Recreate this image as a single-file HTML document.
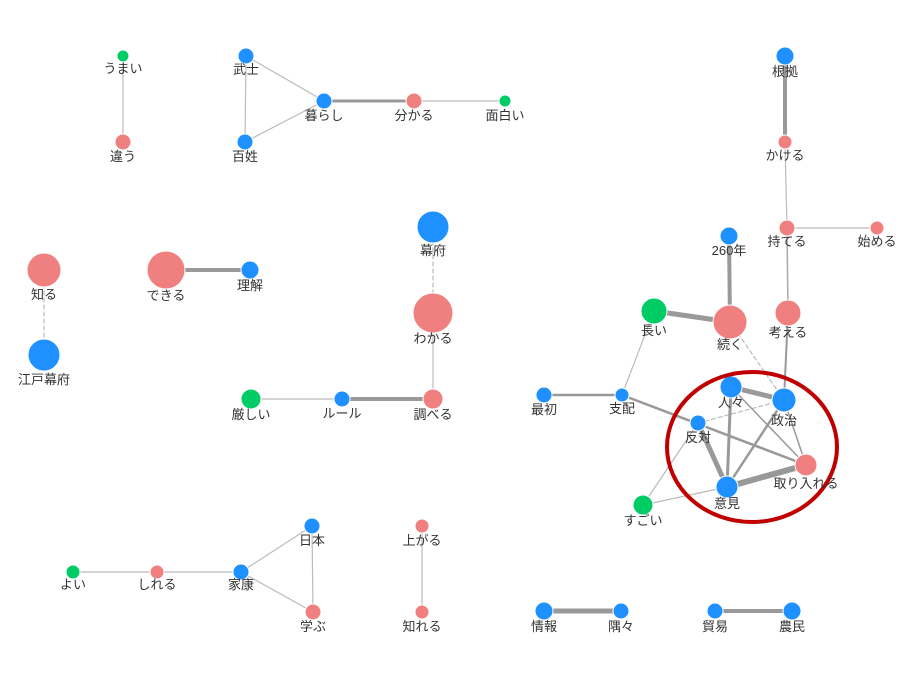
<!DOCTYPE html>
<html><head><meta charset="utf-8"><style>
html,body{margin:0;padding:0;background:#fff;width:920px;height:690px;overflow:hidden}
text{font-family:"Liberation Sans","Noto Sans CJK JP",sans-serif;font-size:13px;fill:#333;text-anchor:middle}
</style></head><body>
<svg width="920" height="690" xmlns="http://www.w3.org/2000/svg">
<g stroke="#999" fill="none" stroke-linecap="round">
<line x1="123" y1="56" x2="123" y2="142" stroke="#bbb" stroke-width="1.2"/>
<line x1="246" y1="56" x2="245" y2="142" stroke="#bbb" stroke-width="1.2"/>
<line x1="246" y1="56" x2="324" y2="101" stroke="#bbb" stroke-width="1.2"/>
<line x1="245" y1="142" x2="324" y2="101" stroke="#bbb" stroke-width="1.2"/>
<line x1="324" y1="101" x2="414" y2="101" stroke-width="3"/>
<line x1="414" y1="101" x2="505" y2="101" stroke="#bbb" stroke-width="1.2"/>
<line x1="785" y1="56" x2="785" y2="142" stroke-width="4"/>
<line x1="785" y1="142" x2="787" y2="228" stroke="#bbb" stroke-width="1.2"/>
<line x1="787" y1="228" x2="877" y2="228" stroke="#bbb" stroke-width="1.2"/>
<line x1="787" y1="228" x2="788" y2="313" stroke="#aaa" stroke-width="1.5"/>
<line x1="729" y1="236" x2="730" y2="322" stroke-width="4"/>
<line x1="44" y1="270" x2="44" y2="355" stroke="#bbb" stroke-width="1.2" stroke-dasharray="4,3"/>
<line x1="166" y1="270" x2="250" y2="270" stroke-width="4"/>
<line x1="433" y1="227" x2="433" y2="313" stroke="#bbb" stroke-width="1.2" stroke-dasharray="4,3"/>
<line x1="433" y1="313" x2="433" y2="399" stroke="#bbb" stroke-width="1.2"/>
<line x1="251" y1="399" x2="342" y2="399" stroke="#bbb" stroke-width="1.2"/>
<line x1="342" y1="399" x2="433" y2="399" stroke-width="4"/>
<line x1="654" y1="311" x2="730" y2="322" stroke-width="5"/>
<line x1="654" y1="311" x2="622" y2="395" stroke="#bbb" stroke-width="1.2"/>
<line x1="544" y1="395" x2="622" y2="395" stroke-width="2.5"/>
<line x1="622" y1="395" x2="806" y2="465" stroke-width="2.5"/>
<line x1="730" y1="322" x2="784" y2="400" stroke="#bbb" stroke-width="1.2" stroke-dasharray="4,3"/>
<line x1="788" y1="313" x2="784" y2="400" stroke-width="2"/>
<line x1="731" y1="387" x2="784" y2="400" stroke-width="5"/>
<line x1="698" y1="423" x2="784" y2="400" stroke="#bbb" stroke-width="1.2" stroke-dasharray="4,3"/>
<line x1="731" y1="387" x2="727" y2="487" stroke-width="3"/>
<line x1="731" y1="387" x2="806" y2="465" stroke-width="1.5"/>
<line x1="784" y1="400" x2="727" y2="487" stroke-width="2.5"/>
<line x1="784" y1="400" x2="806" y2="465" stroke-width="1.5"/>
<line x1="698" y1="423" x2="727" y2="487" stroke-width="5"/>
<line x1="727" y1="487" x2="806" y2="465" stroke-width="6"/>
<line x1="698" y1="423" x2="643" y2="505" stroke="#bbb" stroke-width="1.2"/>
<line x1="643" y1="505" x2="727" y2="487" stroke="#bbb" stroke-width="1.2"/>
<line x1="73" y1="572" x2="241" y2="572" stroke="#bbb" stroke-width="1.2"/>
<line x1="241" y1="572" x2="312" y2="526" stroke="#bbb" stroke-width="1.2"/>
<line x1="241" y1="572" x2="313" y2="612" stroke="#bbb" stroke-width="1.2"/>
<line x1="312" y1="526" x2="313" y2="612" stroke="#bbb" stroke-width="1.2"/>
<line x1="422" y1="526" x2="422" y2="612" stroke="#bbb" stroke-width="1.2"/>
<line x1="544" y1="611" x2="621" y2="611" stroke-width="5"/>
<line x1="715" y1="611" x2="792" y2="611" stroke-width="4"/>
</g>
<g stroke="#fff" stroke-width="1">
<circle cx="123" cy="56" r="6" fill="#00cc66"/>
<circle cx="123" cy="142" r="8" fill="#f08080"/>
<circle cx="246" cy="56" r="8" fill="#1e90ff"/>
<circle cx="245" cy="142" r="8" fill="#1e90ff"/>
<circle cx="324" cy="101" r="8" fill="#1e90ff"/>
<circle cx="414" cy="101" r="8" fill="#f08080"/>
<circle cx="505" cy="101" r="6" fill="#00cc66"/>
<circle cx="785" cy="56" r="9" fill="#1e90ff"/>
<circle cx="785" cy="142" r="7" fill="#f08080"/>
<circle cx="787" cy="228" r="8" fill="#f08080"/>
<circle cx="877" cy="228" r="7" fill="#f08080"/>
<circle cx="729" cy="236" r="9" fill="#1e90ff"/>
<circle cx="44" cy="270" r="17" fill="#f08080"/>
<circle cx="44" cy="355" r="16" fill="#1e90ff"/>
<circle cx="166" cy="270" r="19" fill="#f08080"/>
<circle cx="250" cy="270" r="9" fill="#1e90ff"/>
<circle cx="433" cy="227" r="16" fill="#1e90ff"/>
<circle cx="433" cy="313" r="20" fill="#f08080"/>
<circle cx="654" cy="311" r="13" fill="#00cc66"/>
<circle cx="730" cy="322" r="17" fill="#f08080"/>
<circle cx="788" cy="313" r="13" fill="#f08080"/>
<circle cx="251" cy="399" r="10" fill="#00cc66"/>
<circle cx="342" cy="399" r="8" fill="#1e90ff"/>
<circle cx="433" cy="399" r="10" fill="#f08080"/>
<circle cx="544" cy="395" r="8" fill="#1e90ff"/>
<circle cx="622" cy="395" r="7" fill="#1e90ff"/>
<circle cx="731" cy="387" r="11" fill="#1e90ff"/>
<circle cx="784" cy="400" r="12" fill="#1e90ff"/>
<circle cx="698" cy="423" r="8" fill="#1e90ff"/>
<circle cx="806" cy="465" r="11" fill="#f08080"/>
<circle cx="727" cy="487" r="11" fill="#1e90ff"/>
<circle cx="643" cy="505" r="10" fill="#00cc66"/>
<circle cx="312" cy="526" r="8" fill="#1e90ff"/>
<circle cx="422" cy="526" r="7" fill="#f08080"/>
<circle cx="73" cy="572" r="7" fill="#00cc66"/>
<circle cx="157" cy="572" r="7" fill="#f08080"/>
<circle cx="241" cy="572" r="8" fill="#1e90ff"/>
<circle cx="313" cy="612" r="8" fill="#f08080"/>
<circle cx="422" cy="612" r="7" fill="#f08080"/>
<circle cx="544" cy="611" r="9" fill="#1e90ff"/>
<circle cx="621" cy="611" r="8" fill="#1e90ff"/>
<circle cx="715" cy="611" r="8" fill="#1e90ff"/>
<circle cx="792" cy="611" r="9" fill="#1e90ff"/>
</g>
<ellipse cx="752" cy="447" rx="85" ry="75" fill="none" stroke="#c00000" stroke-width="4"/>
<g>
<text x="123" y="73">うまい</text>
<text x="123" y="161">違う</text>
<text x="246" y="74">武士</text>
<text x="245" y="161">百姓</text>
<text x="324" y="120">暮らし</text>
<text x="414" y="120">分かる</text>
<text x="505" y="120">面白い</text>
<text x="785" y="76">根拠</text>
<text x="785" y="160">かける</text>
<text x="787" y="246">持てる</text>
<text x="877" y="246">始める</text>
<text x="729" y="255">260年</text>
<text x="44" y="299">知る</text>
<text x="44" y="384">江戸幕府</text>
<text x="166" y="300">できる</text>
<text x="250" y="290">理解</text>
<text x="433" y="255">幕府</text>
<text x="433" y="343">わかる</text>
<text x="654" y="335">長い</text>
<text x="730" y="349">続く</text>
<text x="788" y="337">考える</text>
<text x="251" y="419">厳しい</text>
<text x="342" y="418">ルール</text>
<text x="433" y="419">調べる</text>
<text x="544" y="414">最初</text>
<text x="622" y="413">支配</text>
<text x="731" y="407">人々</text>
<text x="784" y="425">政治</text>
<text x="698" y="442">反対</text>
<text x="806" y="488">取り入れる</text>
<text x="727" y="508">意見</text>
<text x="643" y="525">すごい</text>
<text x="312" y="545">日本</text>
<text x="422" y="545">上がる</text>
<text x="73" y="589">よい</text>
<text x="157" y="589">しれる</text>
<text x="241" y="589">家康</text>
<text x="313" y="631">学ぶ</text>
<text x="422" y="631">知れる</text>
<text x="544" y="631">情報</text>
<text x="621" y="631">隅々</text>
<text x="715" y="631">貿易</text>
<text x="792" y="631">農民</text>
</g>
</svg>
</body></html>
